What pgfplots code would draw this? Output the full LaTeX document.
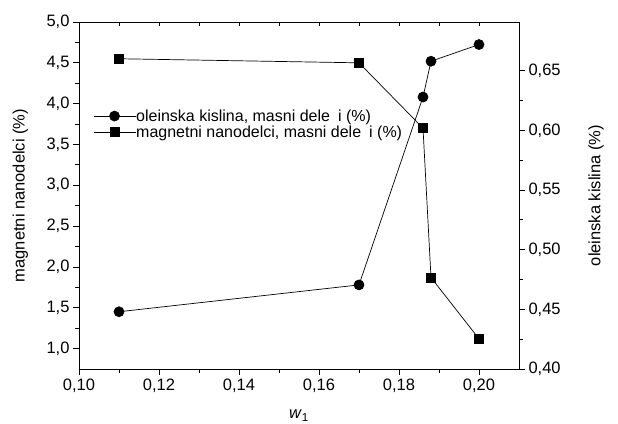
\documentclass[border=0pt]{standalone}
\usepackage{fontspec}
\setmainfont{Liberation Sans}
\usepackage{pgfplots}
\pgfplotsset{compat=1.18}
\pgfplotsset{
  myax/.style={
    scale only axis, width=440pt, height=347pt,
    xmin=0.10, xmax=0.21,
    /pgf/number format/assume math mode=true,
    /pgf/number format/use comma,
    /pgf/number format/fixed,
    /pgf/number format/fixed zerofill,
    tick label style={font=\fontsize{16.5}{19}\selectfont},
    label style={font=\fontsize{16.5}{19}\selectfont},
    axis line style={line width=0.8pt},
    major tick length=6pt, minor tick length=3.5pt,
    every tick/.style={black, line width=0.8pt},
  }
}
\begin{document}
\begin{tikzpicture}
\path[use as bounding box] (-79pt,-54pt) rectangle (539pt,369pt);
% left axis: magnetni nanodelci
\begin{axis}[myax,
  axis x line*=bottom, axis y line*=left,
  tick align=outside,
  ymin=0.75, ymax=5.0,
  xtick={0.10,0.12,0.14,0.16,0.18,0.20},
  minor x tick num=1,
  xticklabel style={/pgf/number format/precision=2},
  ytick={1.0,1.5,2.0,2.5,3.0,3.5,4.0,4.5,5.0},
  minor y tick num=1,
  yticklabel style={/pgf/number format/precision=1},
  xlabel={\textit{w}\textsubscript{1}},
  xlabel style={at={(axis description cs:0.5,-0.135)}, anchor=center},
  ylabel={magnetni nanodelci (\%)},
  ylabel style={at={(axis description cs:-0.133,0.5)}, anchor=center},
]
\addplot[black, line width=0.7pt, mark=square*, mark size=4.5pt, mark options={solid,fill=black}]
  coordinates {(0.11,4.55) (0.17,4.50) (0.186,3.70) (0.188,1.87) (0.20,1.12)};
\end{axis}
% top ticks
\begin{axis}[myax,
  axis x line*=top, axis y line=none,
  tick align=inside,
  ymin=0, ymax=1,
  xtick={0.10,0.12,0.14,0.16,0.18,0.20},
  minor x tick num=1,
  xticklabels={},
  major tick length=4pt, minor tick length=4pt,
]
\end{axis}
% right axis: oleinska kislina
\begin{axis}[myax,
  axis x line=none, axis y line*=right,
  tick align=outside,
  ymin=0.40, ymax=0.6909,
  ytick={0.40,0.45,0.50,0.55,0.60,0.65},
  minor y tick num=1,
  yticklabel style={/pgf/number format/precision=2},
  ylabel={oleinska kislina (\%)},
  ylabel style={at={(axis description cs:1.175,0.5)}, anchor=center},
  legend style={at={(axis description cs:0.025,0.755)}, anchor=north west,
    draw=none, fill=none, font=\fontsize{16}{17}\selectfont,
    nodes={inner sep=0.3pt}, row sep=2.5pt},
  legend cell align=left,
  legend image code/.code={%
    \draw[mark repeat=2,mark phase=2] plot coordinates {(0pt,0pt)(21pt,0pt)(42pt,0pt)};},
]
\addplot[black, line width=0.7pt, mark=*, mark size=5pt, mark options={solid,fill=black}]
  coordinates {(0.11,0.448) (0.17,0.4705) (0.186,0.628) (0.188,0.658) (0.20,0.672)};
\addlegendentry{oleinska kislina, masni dele\hspace{0.5em}i (\%)}
\addlegendimage{black, line width=0.7pt, mark=square*, mark size=4.5pt, mark options={solid,fill=black}}
\addlegendentry{magnetni nanodelci, masni dele\hspace{0.5em}i (\%)}
\end{axis}
\end{tikzpicture}
\end{document}
